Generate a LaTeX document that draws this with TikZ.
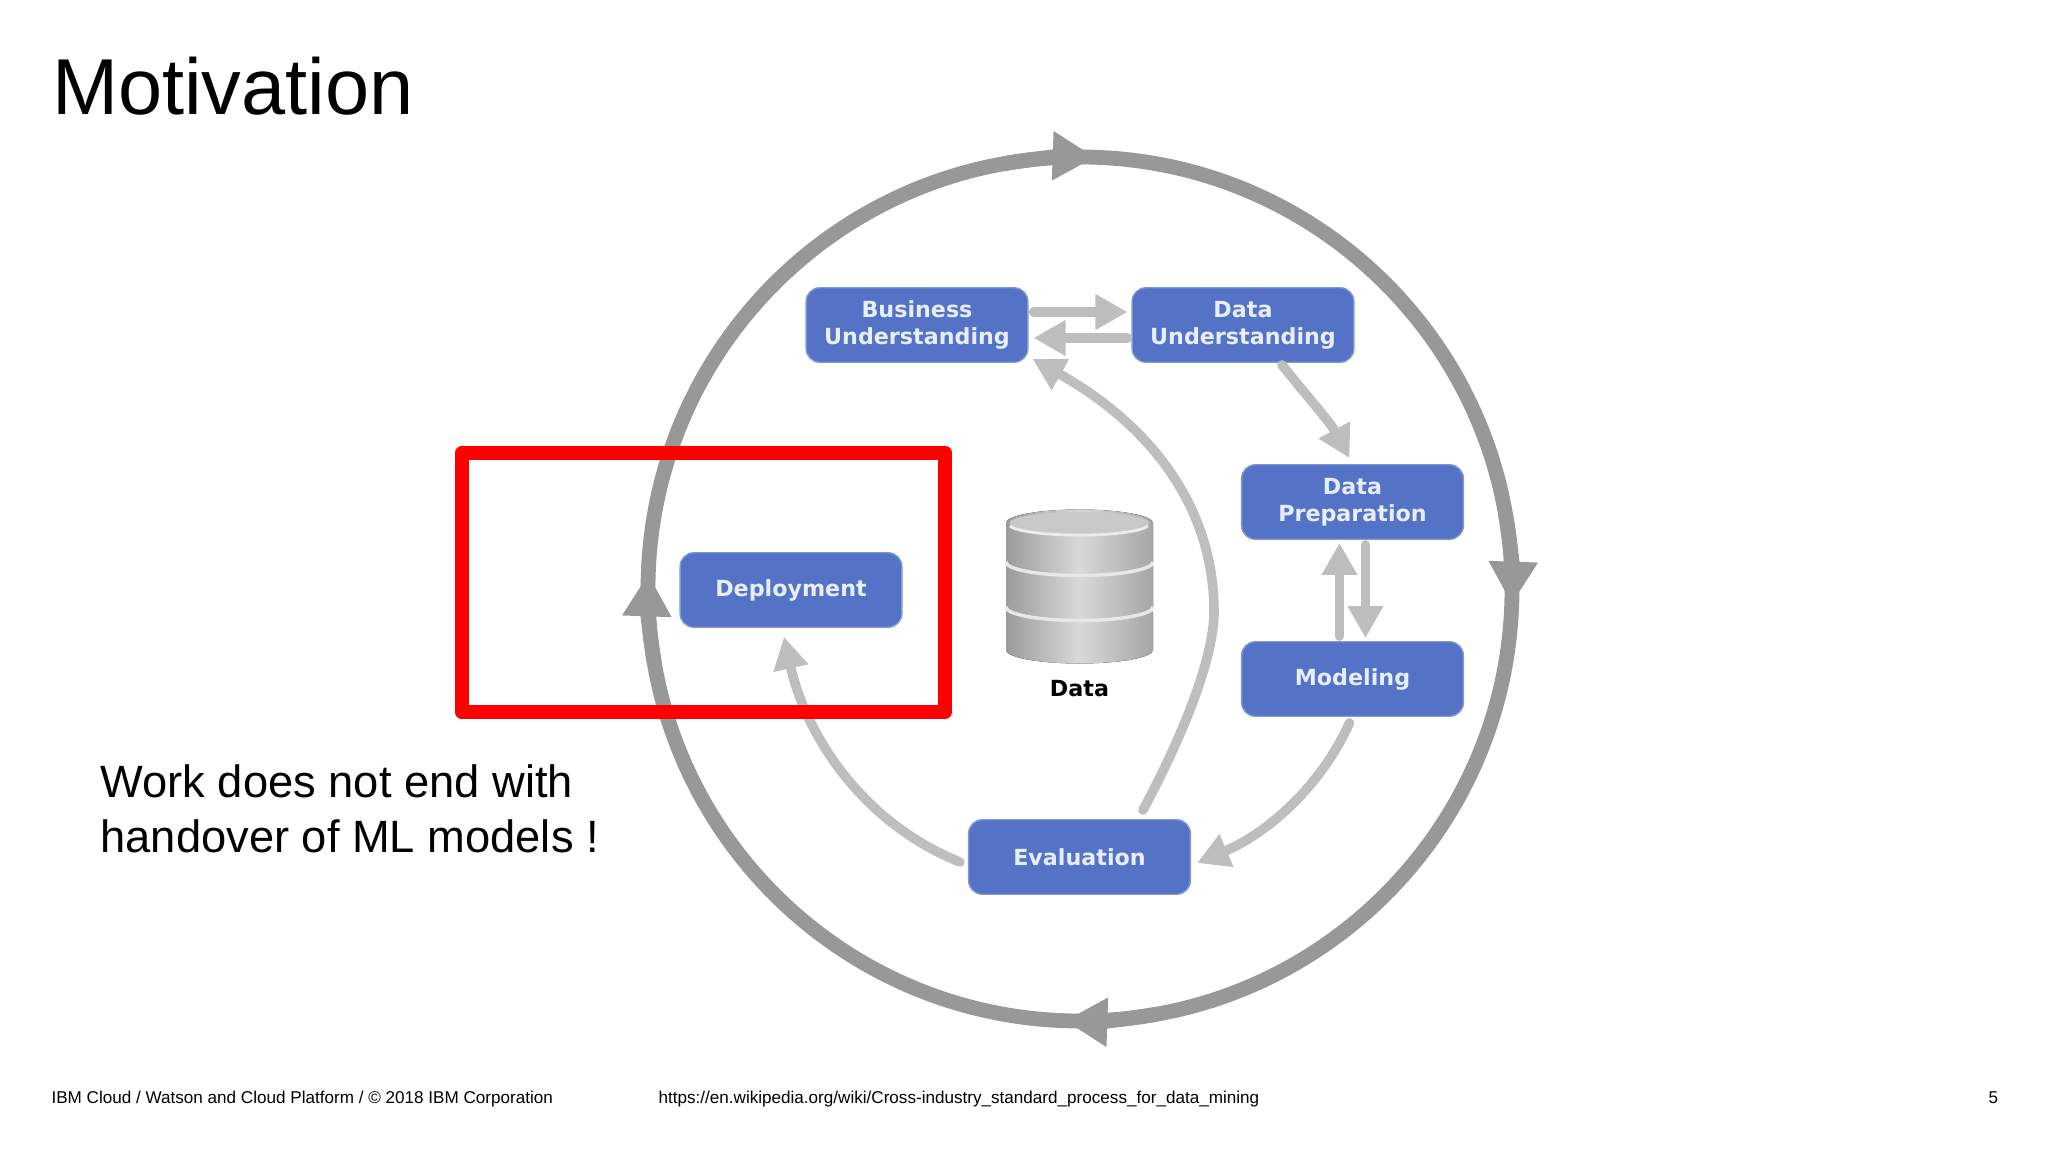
\documentclass[tikz,border=0pt]{standalone}
\usepackage{fontspec}
\setmainfont{Liberation Sans}
\newfontfamily\boxfont{DejaVu Sans}
\usetikzlibrary{arrows.meta}
\definecolor{phaseblue}{HTML}{5573C6}
\definecolor{phaseedge}{HTML}{7F97D6}
\definecolor{phasetext}{HTML}{E6EEFF}
\definecolor{ringgray}{HTML}{989898}
\definecolor{flowgray}{HTML}{BEBEBE}
\tikzstyle{phase}=[rectangle, rounded corners=0.17cm, draw=phaseedge, line width=0.5pt, fill=phaseblue, text=phasetext, minimum width=2.77cm, minimum height=0.93cm, inner sep=0pt, align=center, font=\boxfont\bfseries\fontsize{7.9}{9.7}\selectfont]
\tikzstyle{ring}=[ringgray, line width=0.185cm]
\tikzstyle{ringtip}=[ring, -{Triangle[length=0.53cm, width=0.58cm]}]
\tikzstyle{flow}=[flowgray, line width=0.12cm, line cap=round, -{Triangle[length=0.4cm, width=0.42cm]}]
\tikzstyle{disk}=[left color=gray!78, right color=gray!70, middle color=gray!30]
\tikzstyle{footer}=[anchor=base west, inner sep=0pt, font=\fontsize{6.08}{7.5}\selectfont]
\newcommand{\phasebox}{\node[phase]}
\begin{document}
\begin{tikzpicture}[x=0.0125cm, y=0.0125cm]
\useasboundingbox (0,0) rectangle (2048,1152);
\node[anchor=base west, inner sep=0pt, font=\fontsize{28.2}{32}\selectfont] (title) at (51.5,1038) {Motivation};
\coordinate (centre) at (1080,563);
\draw[ring] (centre) circle (432);
\foreach \a/\b in {100/88, 10/-2, -80/-92, -170/-182}{
	\draw[ringtip] ([shift={(\a:432)}]centre) arc (\a:\b:432);
	}
\phasebox (bu) at (917,827) {Business\\Understanding};
\phasebox (du) at (1243,827) {Data\\Understanding};
\phasebox (dp) at (1352.5,650) {Data\\Preparation};
\phasebox (mo) at (1352.5,473) {Modeling};
\phasebox (ev) at (1079.5,295) {Evaluation};
\phasebox (de) at (791,562) {Deployment};
\foreach \yt/\yb in {539/502, 585/545, 629/590}{
	\fill[disk] (1006,\yt) -- (1006,\yb) arc (180:360:73.5 and 13.5) -- (1153,\yt) arc (0:180:73.5 and 13.5) -- cycle;
	}
\foreach \yb in {545,590}{
	\draw[gray!18, line width=1.2pt] (1006,\yb) arc (180:360:73.5 and 13.5);
	}
\fill[gray!42] (1079.5,629) ellipse (70 and 11);
\draw[gray!15, line width=1pt] (1010,626) arc (190:350:70 and 11);
\node[font=\boxfont\bfseries\fontsize{7.9}{9.7}\selectfont] (data) at (1079.5,463) {Data};
\draw[flow] ([shift={(5,13)}]bu.east) -- ([shift={(-4,13)}]du.west);
\draw[flow] ([shift={(-4,-13)}]du.west) -- ([shift={(5,-13)}]bu.east);
\draw[flow] ([shift={(-13,5)}]mo.north) -- ([shift={(-13,-3)}]dp.south);
\draw[flow] ([shift={(13,-5)}]dp.south) -- ([shift={(13,3)}]mo.north);
\draw[flow] ([shift={(39,-2)}]du.south) .. controls (1310,752) and (1330,730) .. ([shift={(-3,6)}]dp.north);
\draw[flow] ([shift={(-3,-6)}]mo.south) .. controls (1322,368) and (1270,320) .. ([shift={(6,-6)}]ev.east);
\draw[flow] ([shift={(63.5,9)}]ev.north) .. controls (1190,430) and (1214,500) .. (1214,540) .. controls (1214,650) and (1145,730) .. ([shift={(4,4)}]bu.south east);
\draw[flow] ([shift={(-8,-5)}]ev.west) .. controls (860,330) and (805,420) .. ([shift={(-7,-9)}]de.south);
\node[draw=red, line width=0.18cm, line join=round, inner sep=0pt, minimum width=483*0.0125cm, minimum height=259*0.0125cm] (focus) at (703.5,569.5) {};
\node[anchor=west, inner sep=0pt, align=left, font=\fontsize{16.1}{19.5}\selectfont] (note) at (100,343.5) {Work does not end with\\handover of ML models !};
\node[footer] (foot) at (51,49) {IBM Cloud / Watson and Cloud Platform / © 2018 IBM Corporation};
\node[footer] (link) at (658,49) {https://en.wikipedia.org/wiki/Cross-industry\_standard\_process\_for\_data\_mining};
\node[footer] (page) at (1988,49) {5};
\end{tikzpicture}
\end{document}
